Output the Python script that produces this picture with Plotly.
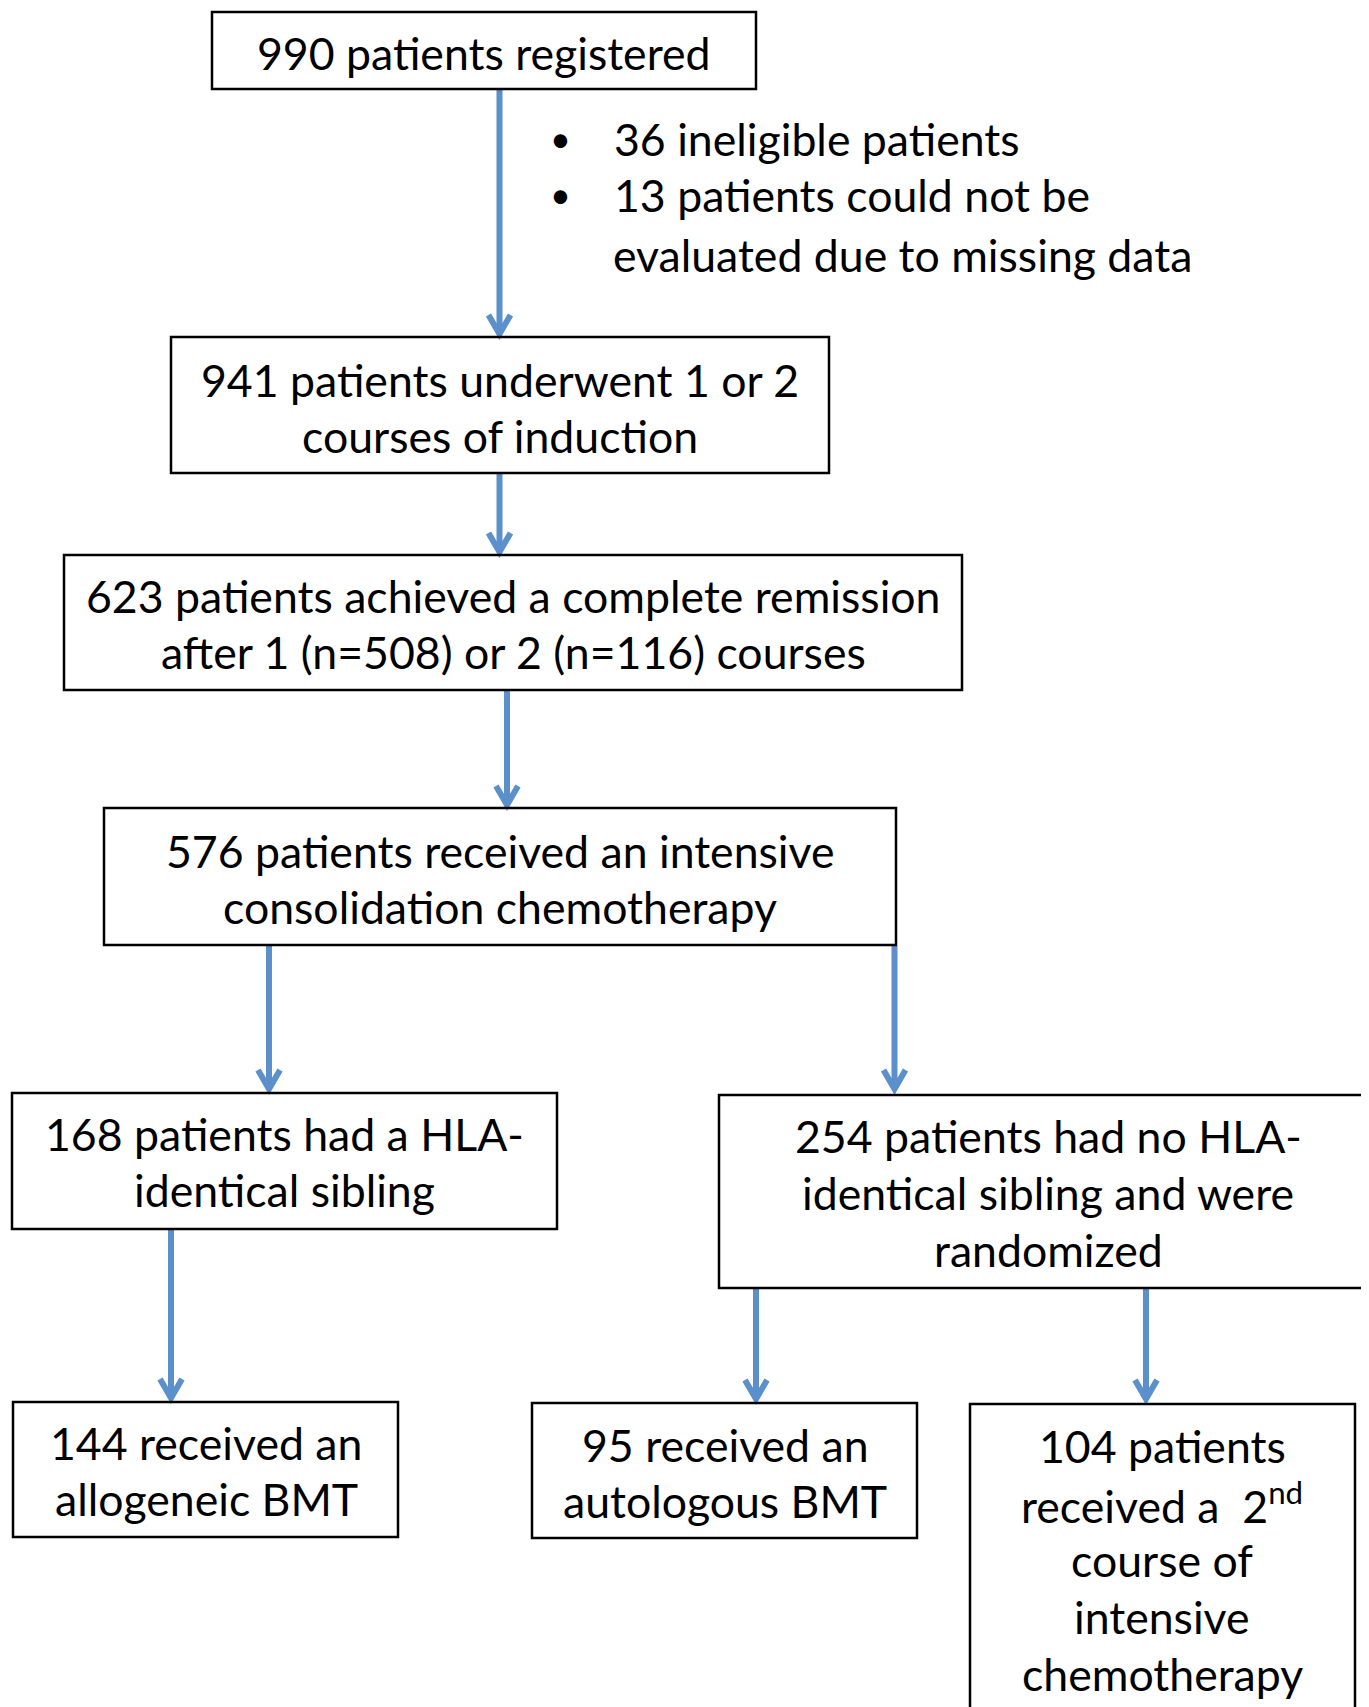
import plotly.graph_objects as go

# ---- data (text content of the flowchart) ----
box_texts = [
    ["990 patients registered"],
    ["941 patients underwent 1 or 2", "courses of induction"],
    ["623 patients achieved a complete remission", "after 1 (n=508) or 2 (n=116) courses"],
    ["576 patients received an intensive", "consolidation chemotherapy"],
    ["168 patients had a HLA-", "identical sibling"],
    ["254 patients had no HLA-", "identical sibling and were", "randomized"],
    ["144 received an", "allogeneic BMT"],
    ["95 received an", "autologous BMT"],
    ["104 patients", "received a  2<sup>nd</sup>", "course of", "intensive", "chemotherapy"],
]
excluded_items = ["36 ineligible patients", "13 patients could not be"]
excluded_continuation = ["evaluated due to missing data"]

# ---- layout (pixel geometry, page coordinates) ----
W, H = 1369, 1707
PAGE_MARGIN = 8  # default body margin of the html page
boxes = [  # x0, y0, x1, y1, text center x, first line y, line step
    (212, 12, 756, 89, 484, 52, 56),
    (171, 337, 829, 473, 500, 379, 56),
    (64, 555, 962, 690, 513, 595, 56),
    (104, 808, 896, 945, 500, 850, 56),
    (12, 1093, 557, 1229, 284, 1133, 56),
    (719, 1095, 1380, 1288, 1048, 1135, 57),
    (13, 1402, 398, 1537, 206, 1442, 56),
    (532, 1403, 917, 1538, 725, 1444, 56),
    (970, 1404, 1355, 1730, 1162, 1445, 57),
]
arrows = [  # x, y_start, y_end
    (499.5, 90, 335),
    (499.5, 474, 553),
    (507, 691, 806),
    (269, 946, 1090),
    (894.5, 946, 1090),
    (171, 1230, 1399),
    (756, 1289, 1400),
    (1146, 1289, 1400),
]

FONT = "Lato"
FS = 44.6
ARROW_C = "#5B90CA"

fig = go.Figure()
shapes = []
annotations = []

for (x0, y0, x1, y1, cx, ly, step), lines in zip(boxes, box_texts):
    shapes.append(dict(type="rect", x0=x0, y0=y0, x1=x1, y1=y1, xref="x", yref="y",
                       line=dict(color="black", width=2.5), fillcolor="rgba(0,0,0,0)"))
    for i, t in enumerate(lines):
        annotations.append(dict(x=cx, y=ly + i * step, text=t, showarrow=False,
                                xref="x", yref="y", xanchor="center", yanchor="middle",
                                font=dict(family=FONT, size=FS, color="black")))

for (x, ys, ye) in arrows:
    fig.add_trace(go.Scatter(x=[x, x], y=[ys, ye - 3], mode="lines",
                             line=dict(color=ARROW_C, width=6), hoverinfo="skip",
                             showlegend=False))
    fig.add_trace(go.Scatter(x=[x - 11, x, x + 11], y=[ye - 20, ye - 1, ye - 20], mode="lines",
                             line=dict(color=ARROW_C, width=6), hoverinfo="skip",
                             showlegend=False))

bullet_ys = [138, 194]
for t, by in zip(excluded_items, bullet_ys):
    annotations.append(dict(x=560, y=by, text="•", showarrow=False, xref="x", yref="y",
                            xanchor="center", yanchor="middle",
                            font=dict(family=FONT, size=36, color="black")))
    annotations.append(dict(x=612, y=by, text=t, showarrow=False, xref="x", yref="y",
                            xanchor="left", yanchor="middle",
                            font=dict(family=FONT, size=FS, color="black")))
for t in excluded_continuation:
    annotations.append(dict(x=611, y=254, text=t, showarrow=False, xref="x", yref="y",
                            xanchor="left", yanchor="middle",
                            font=dict(family=FONT, size=FS, color="black")))

fig.update_layout(
    width=W - PAGE_MARGIN, height=H - PAGE_MARGIN,
    margin=dict(l=0, r=0, t=0, b=0),
    paper_bgcolor="white", plot_bgcolor="white",
    xaxis=dict(range=[PAGE_MARGIN, W], visible=False, fixedrange=True),
    yaxis=dict(range=[H, PAGE_MARGIN], visible=False, fixedrange=True),
    shapes=shapes, annotations=annotations, showlegend=False,
)

fig.write_html("out.html")
